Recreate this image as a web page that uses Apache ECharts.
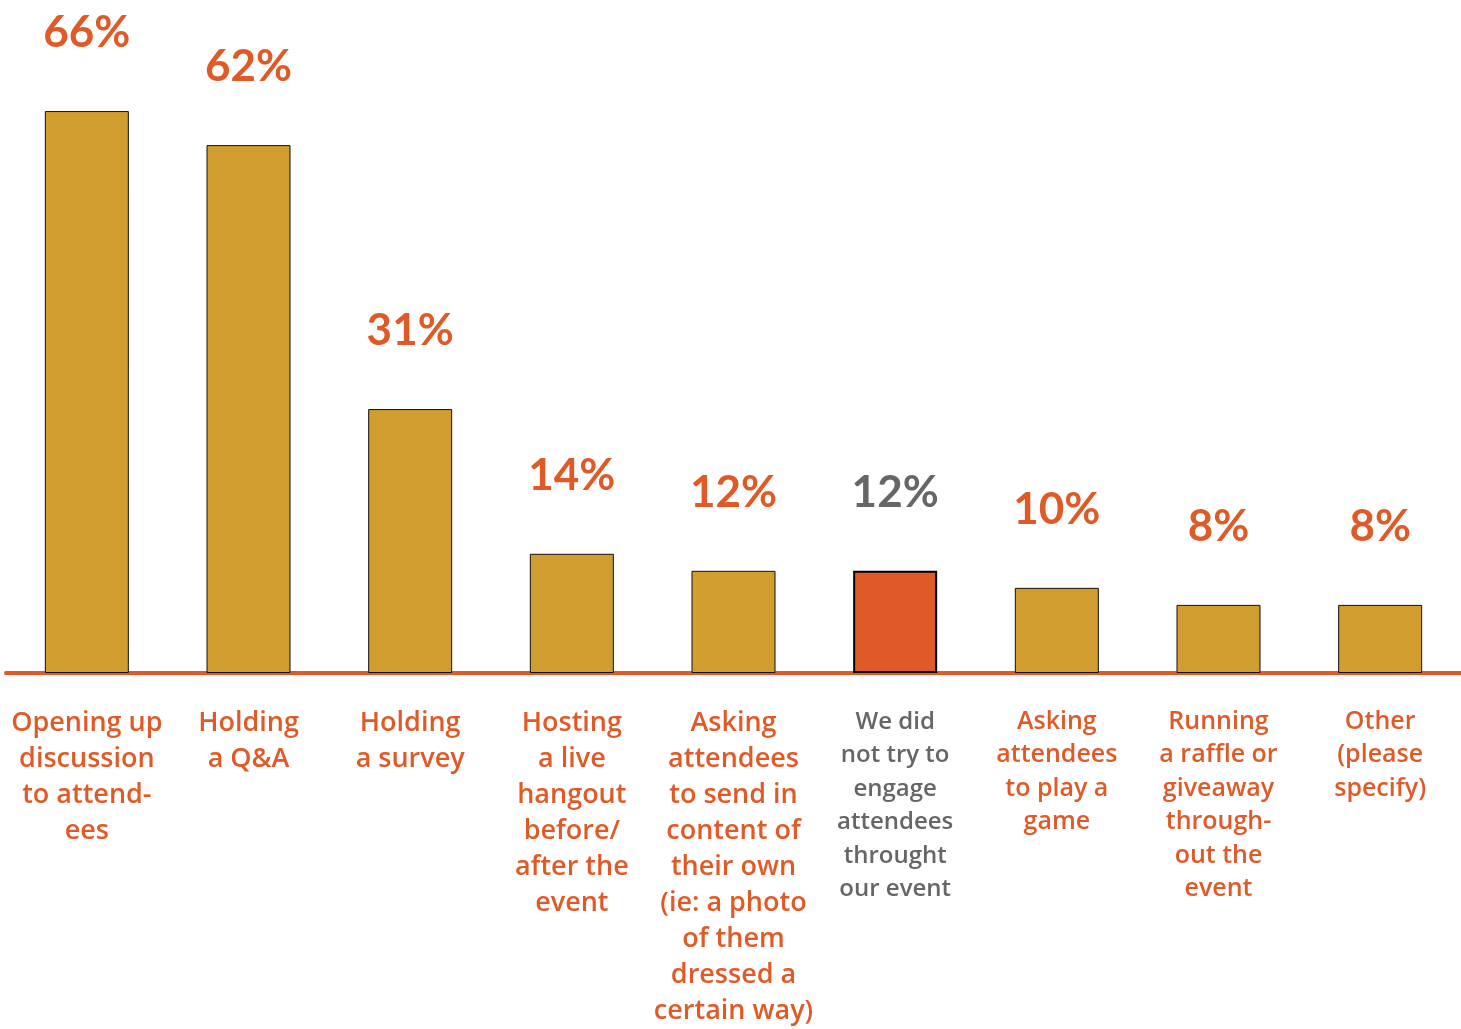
<!DOCTYPE html>
<html>
<head>
<meta charset="utf-8">
<script src="https://cdn.jsdelivr.net/npm/echarts@6/dist/echarts.min.js"></script>
<style>html,body{margin:0;padding:0;background:#fff}#chart{width:1461px;height:1029px}</style>
</head>
<body>
<div id="chart"></div>
<script>
const categories = [
  "Opening up\ndiscussion\nto attend-\nees",
  "Holding\na Q&A",
  "Holding\na survey",
  "Hosting\na live\nhangout\nbefore/\nafter the\nevent",
  "Asking\nattendees\nto send in\ncontent of\ntheir own\n(ie: a photo\nof them\ndressed a\ncertain way)",
  "We did\nnot try to\nengage\nattendees\nthrought\nour event",
  "Asking\nattendees\nto play a\ngame",
  "Running\na raffle or\ngiveaway\nthrough-\nout the\nevent",
  "Other\n(please\nspecify)"
];
const values = [66, 62, 31, 14, 12, 12, 10, 8, 8];
const highlightIndex = 5;

const ORANGE = '#E05A27', GOLD = '#D09D2E', GRAY = '#666666';
const FONT = 'Lato';
const CAT_FONT = 'Open Sans';

const chart = echarts.init(document.getElementById('chart'));
chart.setOption({
  animation: false,
  backgroundColor: '#fff',
  grid: { left: 6, right: 0, top: 77, bottom: 349, containLabel: false },
  xAxis: {
    type: 'category',
    data: categories.map((c, i) => i === highlightIndex
      ? { value: c, textStyle: { color: GRAY, fontSize: 24, lineHeight: 33.5 } }
      : (i > highlightIndex
        ? { value: c, textStyle: { fontSize: 25, lineHeight: 33.5 } }
        : c)),
    axisLine: { lineStyle: { color: ORANGE, width: 4 } },
    axisTick: { show: false },
    axisLabel: {
      interval: 0, margin: 32, color: ORANGE, fontFamily: CAT_FONT, fontWeight: 600,
      fontSize: 27, lineHeight: 36, align: 'center'
    }
  },
  yAxis: { type: 'value', min: 0, max: 70, show: false, splitLine: { show: false } },
  series: [{
    type: 'bar',
    barWidth: 84,
    data: values.map((v, i) => i === highlightIndex
      ? { value: v, itemStyle: { color: ORANGE, borderColor: '#000', borderWidth: 2 },
          label: { color: GRAY } }
      : v),
    itemStyle: { color: GOLD, borderColor: '#111', borderWidth: 1 },
    label: {
      show: true, position: 'top', distance: 56,
      formatter: '{c}%', color: ORANGE, fontFamily: FONT, fontWeight: 'bold', fontSize: 44
    }
  }]
});
</script>
</body>
</html>
